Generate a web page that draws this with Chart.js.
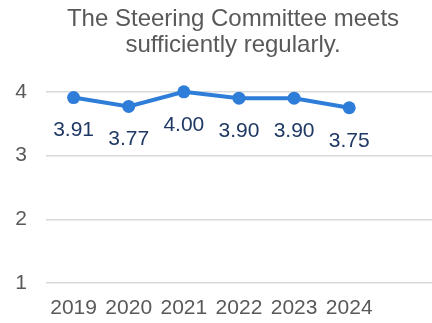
<!DOCTYPE html>
<html>
<head>
<meta charset="utf-8">
<script src="https://cdn.jsdelivr.net/npm/chart.js@4/dist/chart.umd.min.js"></script>
<style>
  html, body { margin:0; padding:0; background:#fff; overflow:hidden; }
  #wrap { width:466px; height:323px; position:relative; }
</style>
</head>
<body>
<div id="wrap"><canvas id="chart"></canvas></div>
<script>
/* ===== Data ===== */
const years  = [2019, 2020, 2021, 2022, 2023, 2024];
const scores = [3.91, 3.77, 4.00, 3.90, 3.90, 3.75];
const yTicks = [1, 2, 3, 4];
const titleLines = ['The Steering Committee meets', 'sufficiently regularly.'];

const FONT = '"Liberation Sans", Arial, sans-serif';
const LINE_BLUE = '#2E7DD9';
const LABEL_NAVY = '#1F3864';
const GREY_TEXT = '#595959';

// value labels under each point
const valueLabels = {
  id:'valueLabels',
  afterDatasetsDraw(chart){
    const c = chart.ctx;
    const meta = chart.getDatasetMeta(0);
    c.save();
    c.font = '21px ' + FONT;
    c.fillStyle = LABEL_NAVY;
    c.textAlign = 'center';
    c.textBaseline = 'middle';
    meta.data.forEach((pt, i) => {
      c.fillText(scores[i].toFixed(2), pt.x, pt.y + 33);
    });
    c.restore();
  }
};

new Chart(document.getElementById('chart'), {
  type:'line',
  plugins:[valueLabels],
  data:{
    datasets:[{
      data: years.map((yr, i) => ({ x: yr, y: scores[i] })),
      borderColor: LINE_BLUE,
      backgroundColor: LINE_BLUE,
      borderWidth: 4,
      pointRadius: 6.5,
      pointBorderWidth: 0,
      pointBackgroundColor: LINE_BLUE,
      tension: 0,
      fill: false,
      clip: false
    }]
  },
  options:{
    responsive:true, maintainAspectRatio:false, animation:false,
    layout:{ padding:0 },
    plugins:{
      legend:{ display:false },
      tooltip:{ enabled:false },
      title:{
        display:true, text:titleLines, color:GREY_TEXT,
        font:{ family:FONT, size:24, weight:'normal', lineHeight:1.1 },
        padding:{ top:6, bottom:33 }
      }
    },
    scales:{
      x:{
        type:'linear', min:2018.5, max:2026,
        grid:{ display:false }, border:{ display:false },
        afterBuildTicks: s => { s.ticks = years.map(v => ({ value:v })); },
        afterFit: s => { s.height = 40; },
        ticks:{ color:GREY_TEXT, padding:5, font:{ family:FONT, size:21 }, callback: v => String(v) }
      },
      y:{
        min:1, max:4,
        afterBuildTicks: s => { s.ticks = yTicks.map(v => ({ value:v })); },
        afterFit: s => { s.width = 46; },
        grid:{ color:'#D9D9D9', lineWidth:1.5, drawTicks:false },
        border:{ display:false },
        ticks:{ color:GREY_TEXT, padding:19, font:{ family:FONT, size:21 } }
      }
    }
  }
});
</script>
</body>
</html>
